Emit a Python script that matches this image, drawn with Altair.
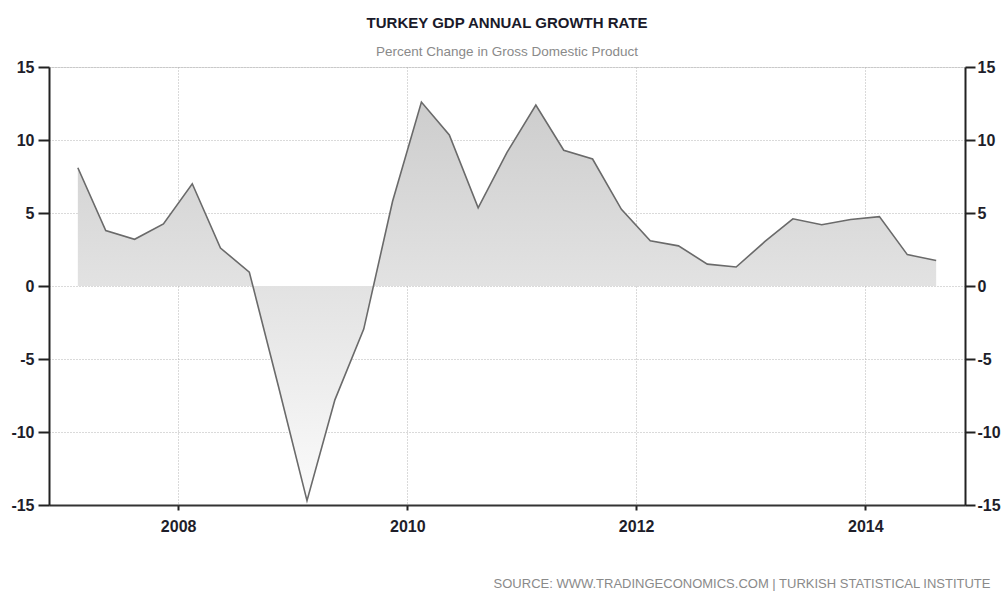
import altair as alt
import pandas as pd

# Quarterly observations (plotted at mid-quarter)
dates = [
    "2007-02-15", "2007-05-15", "2007-08-15", "2007-11-15",
    "2008-02-15", "2008-05-15", "2008-08-15", "2008-11-15",
    "2009-02-15", "2009-05-15", "2009-08-15", "2009-11-15",
    "2010-02-15", "2010-05-15", "2010-08-15", "2010-11-15",
    "2011-02-15", "2011-05-15", "2011-08-15", "2011-11-15",
    "2012-02-15", "2012-05-15", "2012-08-15", "2012-11-15",
    "2013-02-15", "2013-05-15", "2013-08-15", "2013-11-15",
    "2014-02-15", "2014-05-15", "2014-08-15",
]
growth = [
    8.1, 3.8, 3.2, 4.25,
    7.0, 2.6, 0.95, -6.8,
    -14.7, -7.8, -2.95, 5.8,
    12.6, 10.35, 5.35, 9.15,
    12.4, 9.3, 8.7, 5.25,
    3.1, 2.75, 1.5, 1.3,
    3.05, 4.6, 4.2, 4.55,
    4.75, 2.15, 1.75,
]
y_ticks = [-15, -10, -5, 0, 5, 10, 15]
year_ticks = [2008, 2010, 2012, 2014]

title_text = "TURKEY GDP ANNUAL GROWTH RATE"
subtitle_text = "Percent Change in Gross Domestic Product"
source_text = "SOURCE:  WWW.TRADINGECONOMICS.COM  |  TURKISH STATISTICAL INSTITUTE"

df = pd.DataFrame({"date": pd.to_datetime(dates), "value": growth})

FONT = "Liberation Sans, Arial, sans-serif"
LABEL_COLOR = "#1e1e2a"
GRID_COLOR = "#b4b4b4"
LABEL_EXPR = "datum.value < 0 ? '-' + abs(datum.value) : '' + datum.value"

x_scale = alt.Scale(domain=[alt.DateTime(year=2006, month=11, date=15),
                            alt.DateTime(year=2014, month=11, date=15)])

x_enc = alt.X(
    "date:T",
    scale=x_scale,
    axis=alt.Axis(
        values=[alt.DateTime(year=y, month=1, date=1) for y in year_ticks],
        format="%Y",
        title=source_text,
        titleFont=FONT,
        titleFontSize=13,
        titleFontWeight="normal",
        titleColor="#8a8a8a",
        titleAnchor="end",
        titleAlign="right",
        titleBaseline="alphabetic",
        titleX=941,
        titleY=82,
        labelFont=FONT,
        labelFontSize=16,
        labelFontWeight="bold",
        labelColor=LABEL_COLOR,
        labelPadding=8,
        domainColor="#333333",
        domainWidth=2,
        tickColor="#222222",
        tickWidth=2,
        tickSize=5,
        grid=True,
        gridColor=GRID_COLOR,
        gridDash=[1, 2],
        gridWidth=1,
    ),
)

y_left = alt.Y(
    "value:Q",
    scale=alt.Scale(domain=[-15, 15], nice=False),
    axis=alt.Axis(
        values=y_ticks,
        orient="left",
        title=None,
        labelExpr=LABEL_EXPR,
        labelFont=FONT,
        labelFontSize=16,
        labelFontWeight="bold",
        labelColor=LABEL_COLOR,
        labelPadding=4,
        domainColor="#222222",
        domainWidth=2,
        tickColor="#222222",
        tickWidth=2,
        tickSize=11,
        grid=True,
        gridColor=GRID_COLOR,
        gridDash=[1, 2],
        gridWidth=1,
    ),
)

y_right = alt.Y(
    "value:Q",
    scale=alt.Scale(domain=[-15, 15], nice=False),
    axis=alt.Axis(
        values=y_ticks,
        orient="right",
        title=None,
        labelExpr=LABEL_EXPR,
        labelFont=FONT,
        labelFontSize=16,
        labelFontWeight="bold",
        labelColor=LABEL_COLOR,
        labelPadding=2,
        domainColor="#222222",
        domainWidth=2,
        tickColor="#222222",
        tickWidth=2,
        tickSize=10,
        grid=False,
    ),
)

area = alt.Chart(df).mark_area(
    color=alt.Gradient(
        gradient="linear",
        stops=[alt.GradientStop(color="#cdcdcd", offset=0),
               alt.GradientStop(color="#e4e4e4", offset=0.5),
               alt.GradientStop(color="#fbfbfb", offset=1)],
        x1=1, x2=1, y1=0, y2=1,
    ),
    opacity=1,
).encode(x=x_enc, y=y_left)

line = alt.Chart(df).mark_line(color="#6a6a6a", strokeWidth=1.6).encode(
    x=x_enc,
    y=y_right,
)

chart = alt.layer(area, line).resolve_axis(y="independent").properties(
    width=916,
    height=438,
    autosize=alt.AutoSizeParams(type="none"),
    padding={"left": 49, "top": 67, "right": 38, "bottom": 86},
    title=alt.TitleParams(
        text=title_text,
        subtitle=subtitle_text,
        anchor="middle",
        font=FONT,
        fontSize=15,
        fontWeight="bold",
        color="#1a1a2a",
        subtitleFont=FONT,
        subtitleFontSize=13.5,
        subtitleColor="#8a8a8a",
        subtitlePadding=14,
        offset=1,
    ),
).configure_view(stroke=None).configure(background="white")

chart.save("out.html", embed_options={"renderer": "svg", "actions": False})
